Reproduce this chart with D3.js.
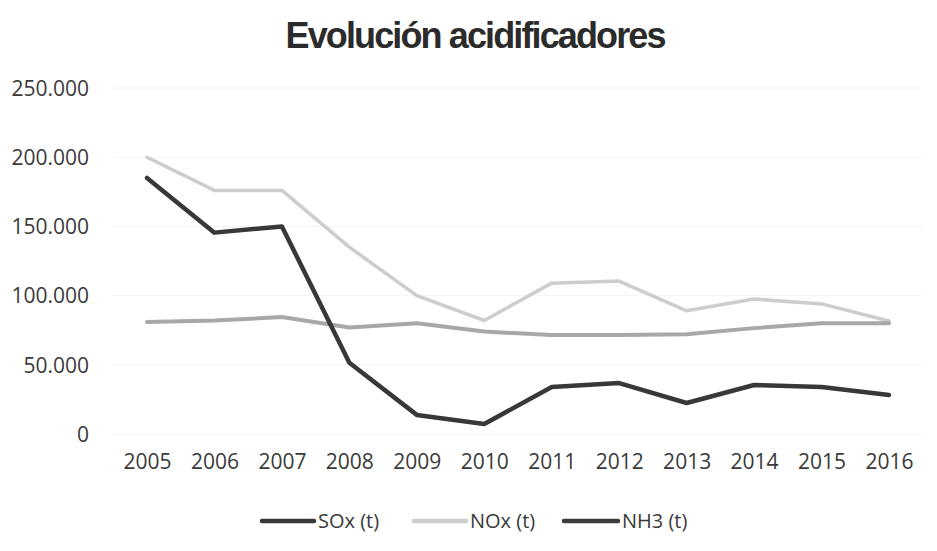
<!DOCTYPE html>
<html><head><meta charset="utf-8">
<script src="https://cdn.jsdelivr.net/npm/d3@7"></script>
<style>body{margin:0;background:#fff}</style>
</head><body>
<svg id="c" width="937" height="551"></svg>
<script>
const years = ["2005","2006","2007","2008","2009","2010","2011","2012","2013","2014","2015","2016"];
const sox = [185000,145500,150000,51500,13800,7200,34000,36800,22400,35400,34000,28200];
const nox = [200000,176000,176000,135000,100000,82000,109000,110500,89000,97500,94000,81600];
const nh3 = [81000,82000,84500,77000,80000,74000,71500,71500,72000,76500,80000,80000];
const yTicks = [0,50000,100000,150000,200000,250000];
const seriesNames = ["SOx (t)","NOx (t)","NH3 (t)"];
const title = "Evolución acidificadores";

const svg = d3.select("#c");
const x = d3.scalePoint().domain(years).range([147,889]);
const y = d3.scaleLinear().domain([0,250000]).range([434,88]);
const fmt = v => d3.format(",")(v).replace(/,/g,".");

// gridlines
svg.append("g").selectAll("line").data(yTicks).join("line")
  .attr("x1",113).attr("x2",922).attr("y1",d=>y(d)).attr("y2",d=>y(d))
  .attr("stroke","#f4f4f4").attr("stroke-width",1);

const font = "'Open Sans', sans-serif";
// y axis
const yAxis = d3.axisLeft(y).tickValues(yTicks).tickSize(0).tickPadding(0).tickFormat(fmt);
const gy = svg.append("g").attr("transform","translate(89,0)").call(yAxis);
gy.select(".domain").remove();
gy.selectAll("text").attr("font-family",font).attr("font-size",21).attr("fill","#3a3a3a").attr("dy","0.35em");

// x axis
const xAxis = d3.axisBottom(x).tickSize(0).tickPadding(0);
const gx = svg.append("g").attr("transform","translate(0,454)").call(xAxis);
gx.select(".domain").remove();
gx.selectAll("text").attr("font-family",font).attr("font-size",21).attr("fill","#3a3a3a").attr("dy","0.71em");

// lines
const line = d3.line().x((d,i)=>x(years[i])).y(d=>y(d));
const series = [
  {name:seriesNames[1], data:nox, color:"#cdcdcd", w:3.5},
  {name:seriesNames[2], data:nh3, color:"#a8a8a8", w:4},
  {name:seriesNames[0], data:sox, color:"#383838", w:4.5}
];
svg.append("g").selectAll("path").data(series).join("path")
  .attr("d",d=>line(d.data)).attr("fill","none")
  .attr("stroke",d=>d.color).attr("stroke-width",d=>d.w)
  .attr("stroke-linejoin","round").attr("stroke-linecap","round");

// title
svg.append("text").attr("x",476).attr("y",48).attr("text-anchor","middle")
  .attr("font-family","'Liberation Sans', Arial, sans-serif").attr("font-weight","bold")
  .attr("font-size",36).attr("fill","#2b2b2b")
  .attr("textLength",381).attr("lengthAdjust","spacing").text(title);

// legend
const legend = [
  {name:seriesNames[0], color:"#383838", x1:262, x2:314},
  {name:seriesNames[1], color:"#cdcdcd", x1:414, x2:466},
  {name:seriesNames[2], color:"#3c3c3c", x1:564, x2:618}
];
const lg = svg.append("g");
lg.selectAll("line").data(legend).join("line")
  .attr("x1",d=>d.x1).attr("x2",d=>d.x2).attr("y1",521).attr("y2",521)
  .attr("stroke",d=>d.color).attr("stroke-width",4.5).attr("stroke-linecap","round");
lg.selectAll("text").data(legend).join("text")
  .attr("x",d=>d.x2+4).attr("y",521).attr("dy","0.35em")
  .attr("font-family",font).attr("font-size",20).attr("fill","#3a3a3a").text(d=>d.name);
</script>
</body></html>
